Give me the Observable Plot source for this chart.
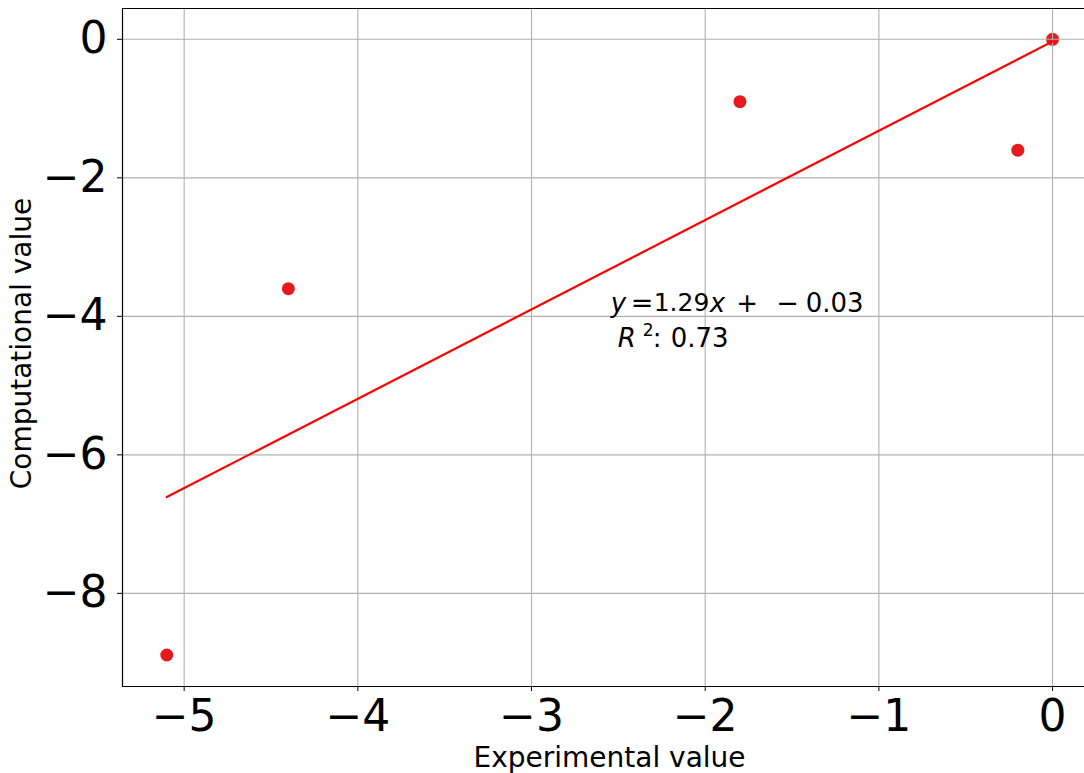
<!DOCTYPE html>
<html>
<head>
<meta charset="utf-8">
<script src="https://cdn.jsdelivr.net/npm/d3@7"></script>
<script src="https://cdn.jsdelivr.net/npm/@observablehq/plot@0.6"></script>
<style>
  html, body { margin: 0; padding: 0; background: white; overflow: hidden; }
</style>
</head>
<body>
<div id="chart"></div>
<script>
// Data
const experimental = [-5.1, -4.4, -1.8, -0.2, 0.0];
const computational = [-8.89, -3.6, -0.9, -1.6, 0.0];
const slope = 1.29;
const intercept = -0.03;
const r2 = 0.73;
const fitX = [-5.1, 0.0];
const xTicks = [-5, -4, -3, -2, -1, 0];
const yTicks = [0, -2, -4, -6, -8];
const xLimits = [-5.355, 0.184];
const yLimits = [-9.345, 0.445];
const annotationAt = {x: -2.55, y: -3.81};

const points = experimental.map((x, i) => ({x, y: computational[i]}));
const fit = fitX.map(x => ({x, y: slope * x + intercept}));
const fmt = d => (d < 0 ? "\u2212" : "") + Math.abs(d);
const ann = [annotationAt];

const font = "DejaVu Sans";
const annSize = 25;
const pieces1 = [
  {t: "y", dx: 1, it: true, size: 26},
  {t: "=", dx: 21, it: false, size: 27},
  {t: slope.toFixed(2), dx: 44, it: false, size: annSize},
  {t: "x", dx: 100, it: true, size: 26},
  {t: "+", dx: 126.5, it: false, size: 26},
  {t: "\u2212", dx: 166.5, it: false, size: 27},
  {t: Math.abs(intercept).toFixed(2), dx: 196, it: false, size: 26}
];
const pieces2 = [
  {t: "R", dx: 8, dy: 35, it: true, size: 26},
  {t: "2", dx: 33, dy: 27, it: false, size: 17},
  {t: ":", dx: 43, dy: 35, it: false, size: 26},
  {t: r2.toFixed(2), dx: 61, dy: 35, it: false, size: 26}
];

const chart = Plot.plot({
  width: 1084,
  height: 773,
  marginLeft: 122,
  marginRight: 0,
  marginTop: 8,
  marginBottom: 87,
  style: {fontFamily: font, background: "white", color: "black", overflow: "hidden"},
  x: {domain: xLimits, label: null},
  y: {domain: yLimits, label: null},
  marks: [
    Plot.dot(points, {x: "x", y: "y", r: 6.5, fill: "#e41a1c", stroke: "none"}),
    Plot.gridX(xTicks, {stroke: "#b0b0b0", strokeOpacity: 1, strokeWidth: 1.1}),
    Plot.gridY(yTicks, {stroke: "#b0b0b0", strokeOpacity: 1, strokeWidth: 1.1}),
    Plot.line(fit, {x: "x", y: "y", stroke: "#ff0000", strokeWidth: 2.2}),
    Plot.ruleX([xLimits[0]], {stroke: "black", strokeWidth: 1.2}),
    Plot.ruleY([yLimits[0]], {stroke: "black", strokeWidth: 1.2}),
    Plot.ruleY([yLimits[1]], {stroke: "black", strokeWidth: 1.2}),
    Plot.axisX(xTicks, {tickSize: 5, tickPadding: 8, fontSize: 44, tickFormat: fmt, label: null, stroke: "black"}),
    Plot.axisY(yTicks, {tickSize: 5, tickPadding: 10, fontSize: 44, tickFormat: fmt, label: null, stroke: "black"}),
    // annotation line 1
    ...pieces1.map(p => Plot.text(ann, {x: "x", y: "y", text: () => p.t, dx: p.dx, textAnchor: "start", lineAnchor: "middle",
      fontSize: p.size, fontStyle: p.it ? "italic" : "normal", fill: "black"})),
    // annotation line 2
    ...pieces2.map(p => Plot.text(ann, {x: "x", y: "y", text: () => p.t, dx: p.dx, dy: p.dy, textAnchor: "start", lineAnchor: "middle",
      fontSize: p.size, fontStyle: p.it ? "italic" : "normal", fill: "black"})),
    // axis labels
    Plot.text(["Experimental value"], {frameAnchor: "bottom", text: d => d, textAnchor: "middle", lineAnchor: "middle", dx: 6, dy: 72, fontSize: 28, fill: "black"}),
    Plot.text(["Computational value"], {frameAnchor: "left", text: d => d, rotate: -90, textAnchor: "middle", lineAnchor: "middle", dx: -100, dy: -4, fontSize: 28, fill: "black"})
  ]
});
document.getElementById("chart").appendChild(chart);
</script>
</body>
</html>
